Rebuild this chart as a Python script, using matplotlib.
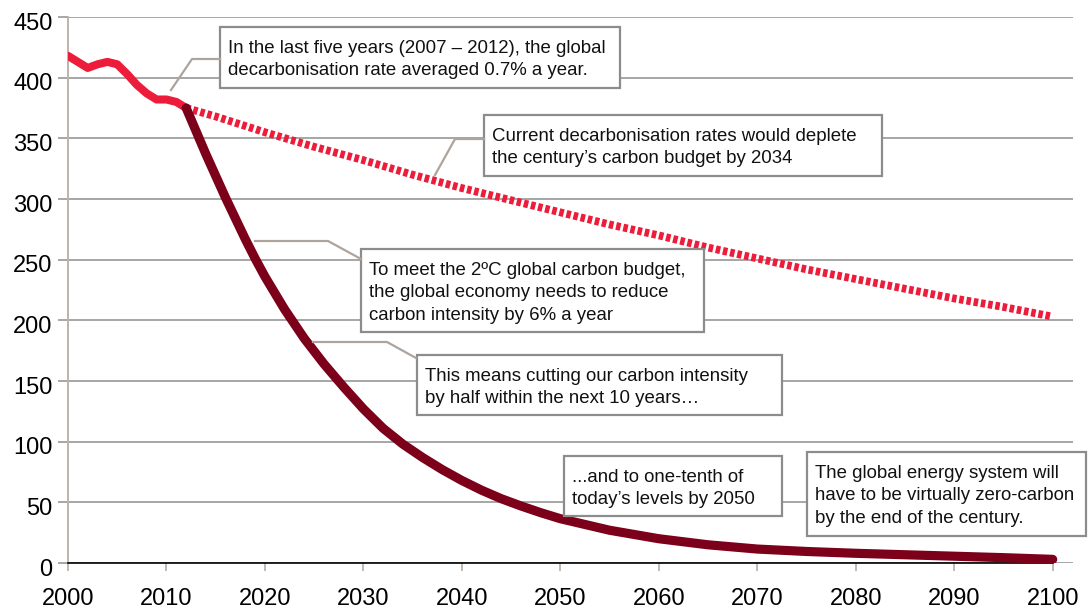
import matplotlib
matplotlib.use("Agg")
import matplotlib.pyplot as plt
from matplotlib.patches import Rectangle
from matplotlib.lines import Line2D
from matplotlib.transforms import ScaledTranslation

plt.rcParams['font.family'] = ['Liberation Sans', 'DejaVu Sans']

# Historical carbon intensity (2000-2012)
hist_years = [2000, 2001, 2002, 2003, 2004, 2005, 2006, 2007, 2008, 2009, 2010, 2011, 2012]
hist_values = [418, 413, 408, 411, 413, 411, 403, 394, 387, 382, 382, 380, 375]

# Continuing at the current decarbonisation rate (~0.7% a year)
current_years = [2012, 2015, 2020, 2025, 2030, 2035, 2040, 2045, 2050, 2055,
                 2060, 2065, 2070, 2075, 2080, 2085, 2090, 2095, 2100]
current_values = [375, 368, 355, 343, 332, 320, 309, 299, 289, 279,
                  270, 260, 251, 242, 234, 226, 218, 211, 203]

# Pathway required for the 2ºC carbon budget (~6% a year)
budget_years = [2012, 2013, 2014, 2015, 2016, 2017, 2018, 2019, 2020, 2022, 2024,
                2026, 2028, 2030, 2032, 2034, 2036, 2038, 2040, 2042, 2044, 2046,
                2048, 2050, 2055, 2060, 2065, 2070, 2075, 2080, 2085, 2090, 2095, 2100]
budget_values = [375, 356, 337, 319, 301, 284, 267, 251, 236, 209, 185,
                 164, 145, 127, 111, 98, 87, 77, 68, 60, 53, 47,
                 41.5, 36.5, 27, 20, 15, 11.5, 9.5, 8, 6.8, 5.6, 4.4, 3]

x_ticks = list(range(2000, 2101, 10))
y_ticks = list(range(0, 451, 50))

notes = [
    "In the last five years (2007 \u2013 2012), the global\ndecarbonisation rate averaged 0.7% a year.",
    "Current decarbonisation rates would deplete\nthe century\u2019s carbon budget by 2034",
    "To meet the 2\u00baC global carbon budget,\nthe global economy needs to reduce\ncarbon intensity by 6% a year",
    "This means cutting our carbon intensity\nby half within the next 10 years\u2026",
    "...and to one-tenth of\ntoday\u2019s levels by 2050",
    "The global energy system will\nhave to be virtually zero-carbon\nby the end of the century.",
]

W, H = 1088, 609
fig = plt.figure(figsize=(W / 100, H / 100), dpi=100)
ax = fig.add_axes([68 / W, 1 - 563 / H, (1073 - 68) / W, (563 - 17) / H])

RED = '#ec1c3a'
DARK = '#7c0019'

ax.plot(current_years, current_values, color=RED, lw=5.6,
        dashes=(0.58, 0.36), solid_capstyle='butt', dash_capstyle='butt', zorder=3)
ax.plot(hist_years, hist_values, color=RED, lw=5.8,
        solid_capstyle='round', solid_joinstyle='round', zorder=4)
ax.plot(budget_years, budget_values, color=DARK, lw=6.6,
        solid_capstyle='round', solid_joinstyle='round', zorder=5)

ax.set_xlim(2000, 2102.06)
ax.set_ylim(0, 450)
ax.set_xticks(x_ticks)
ax.set_yticks(y_ticks)
ax.yaxis.grid(True, color='#8e8e8e', lw=1.1)
ax.set_axisbelow(True)

for s in ('top', 'right'):
    ax.spines[s].set_visible(False)
ax.spines['left'].set_color('#bdb3ab')
ax.spines['left'].set_linewidth(1.4)
ax.spines['bottom'].set_color('black')
ax.spines['bottom'].set_linewidth(1.2)
ax.spines['bottom'].set_bounds(2000, 2100)

ax.tick_params(axis='y', length=7, width=1.1, color='#8e8e8e', pad=4,
               labelsize=17)
ax.tick_params(axis='x', length=6, width=1.3, color='#bdb3ab', pad=12,
               labelsize=17)

# nudge the value labels slightly below their gridlines
shift = ScaledTranslation(0, -3 / 72, fig.dpi_scale_trans)
for lab in ax.get_yticklabels():
    lab.set_transform(lab.get_transform() + shift)


def fx(x):
    return x / W


def fy(y):
    return 1 - y / H


# Call-out boxes (pixel extents: left, top, right, bottom)
boxes = [
    (220, 27, 620, 88),
    (484, 115, 882, 176),
    (361, 249, 704, 332),
    (417, 355, 782, 415),
    (564, 456, 782, 516),
    (807, 452, 1086, 536),
]
leaders = [
    [(171, 90), (192, 59), (220, 59)],
    [(435, 175), (455, 139), (484, 139)],
    [(255, 241), (328, 241), (361, 259)],
    [(313, 342), (387, 342), (416, 358)],
]

for (l, t, r, b), txt in zip(boxes, notes):
    fig.add_artist(Rectangle((fx(l), fy(b)), (r - l) / W, (b - t) / H,
                             transform=fig.transFigure, facecolor='white',
                             edgecolor='#8c8c8c', lw=1.6, zorder=6))
    fig.text(fx(l + 8), fy(t + 13), txt, ha='left', va='top', fontsize=13.4,
             color='#111111', linespacing=1.42, zorder=7)

for pts in leaders:
    xs = [fx(p[0]) for p in pts]
    ys = [fy(p[1]) for p in pts]
    fig.add_artist(Line2D(xs, ys, transform=fig.transFigure, color='#aea49c',
                          lw=1.6, zorder=6))

fig.savefig('out.png', dpi=100)
